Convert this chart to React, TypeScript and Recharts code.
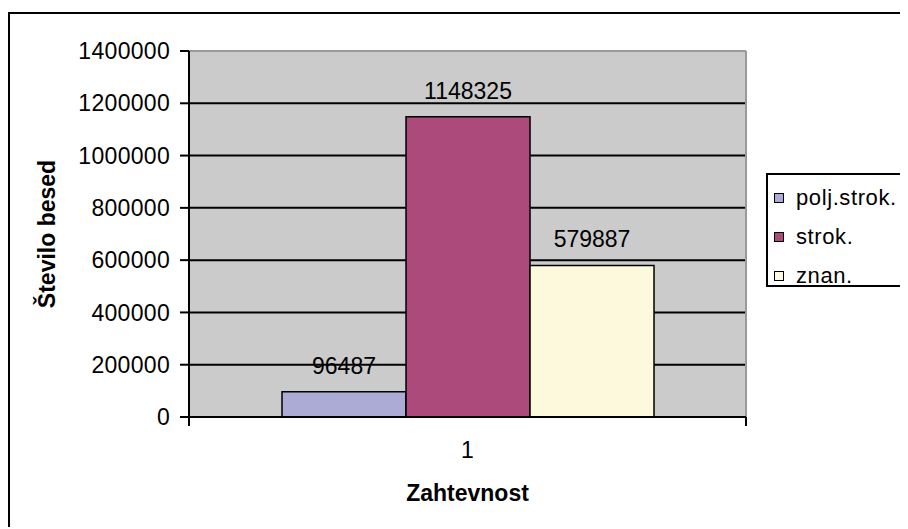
import { Bar, BarChart, CartesianGrid, LabelList, Legend, ReferenceLine, XAxis, YAxis, usePlotArea } from 'recharts'

const categories = ['1']
const seriesNames = ['polj.strok.', 'strok.', 'znan.']
const poljStrok = [96487]
const strok = [1148325]
const znan = [579887]
const yTicks = [0, 200000, 400000, 600000, 800000, 1000000, 1200000, 1400000]

const colors = ['#ABABD6', '#AB4A7B', '#FDF9DC']
const font = '"Liberation Sans", Arial, sans-serif'

const data = categories.map((c, i) => ({
  cat: c,
  s0: poljStrok[i],
  s1: strok[i],
  s2: znan[i],
}))

// right border of the plot and the two outer x ticks at the category edges
function PlotFrame() {
  const area = usePlotArea()
  if (!area) return null
  const { x, y, width, height } = area
  return (
    <g>
      <line x1={x + width} y1={y} x2={x + width} y2={y + height} stroke="#999" strokeWidth={2} />
      <line x1={x} y1={y + height} x2={x} y2={y + height + 9} stroke="#000" strokeWidth={2} />
      <line x1={x + width} y1={y + height} x2={x + width} y2={y + height + 9} stroke="#000" strokeWidth={2} />
    </g>
  )
}

function LegendBox() {
  return (
    <div
      style={{
        border: '2px solid #000',
        background: '#fff',
        width: 146,
        height: 114,
        boxSizing: 'border-box',
        padding: '3px 0 0 6px',
        fontFamily: font,
        fontSize: 22,
        letterSpacing: 0.6,
        color: '#000',
      }}
    >
      {seriesNames.map((n, i) => (
        <div key={n} style={{ display: 'flex', alignItems: 'center', height: 39, whiteSpace: 'nowrap' }}>
          <span
            style={{
              display: 'inline-block',
              width: 10,
              height: 10,
              boxSizing: 'border-box',
              border: '1px solid #000',
              background: colors[i],
              marginRight: 12,
            }}
          />
          {n}
        </div>
      ))}
    </div>
  )
}

export default function App() {
  return (
    <div
      style={{
        position: 'relative',
        top: 4,
        width: 898,
        height: 517,
        borderLeft: '2px solid #000',
        borderTop: '2px solid #000',
        background: '#fff',
      }}
    >
      <BarChart
        width={898}
        height={515}
        data={data}
        margin={{ top: 37, right: 162, bottom: 22, left: 0 }}
        barCategoryGap="16.7%"
        barGap={0}
        style={{ fontFamily: font }}
      >
        <CartesianGrid vertical={false} fill="#CBCBCB" stroke="#000" strokeWidth={2} />
        <XAxis
          dataKey="cat"
          height={90}
          axisLine={{ stroke: '#000', strokeWidth: 2 }}
          tickLine={false}
          tickSize={0}
          tickMargin={25}
          tick={{ fill: '#000', fontSize: 23 }}
          label={{
            value: 'Zahtevnost',
            position: 'insideBottom',
            offset: 6,
            style: { fill: '#000', fontSize: 23, fontWeight: 'bold' },
          }}
        />
        <YAxis
          width={179}
          domain={[0, 1400000]}
          ticks={yTicks}
          interval={0}
          axisLine={{ stroke: '#000', strokeWidth: 2 }}
          tickLine={{ stroke: '#000', strokeWidth: 2 }}
          tickSize={9}
          tickMargin={10}
          tick={{ fill: '#000', fontSize: 23, letterSpacing: 0.3 }}
          label={{
            value: 'Število besed',
            angle: -90,
            position: 'insideLeft',
            offset: 37,
            style: { fill: '#000', fontSize: 23, fontWeight: 'bold', textAnchor: 'middle' },
          }}
        />
        <ReferenceLine y={1400000} stroke="#999" strokeWidth={2} />
        {seriesNames.map((n, i) => (
          <Bar
            key={n}
            dataKey={`s${i}`}
            name={n}
            fill={colors[i]}
            stroke="#000"
            strokeWidth={1.5}
            isAnimationActive={false}
          >
            <LabelList
              dataKey={`s${i}`}
              position="top"
              offset={18}
              style={{ fill: '#000', fontSize: 23, stroke: 'none' }}
            />
          </Bar>
        ))}
        <PlotFrame />
        <Legend
          layout="vertical"
          align="center"
          verticalAlign="middle"
          wrapperStyle={{ left: 756, top: 159, width: 146 }}
          content={() => <LegendBox />}
        />
      </BarChart>
    </div>
  )
}
